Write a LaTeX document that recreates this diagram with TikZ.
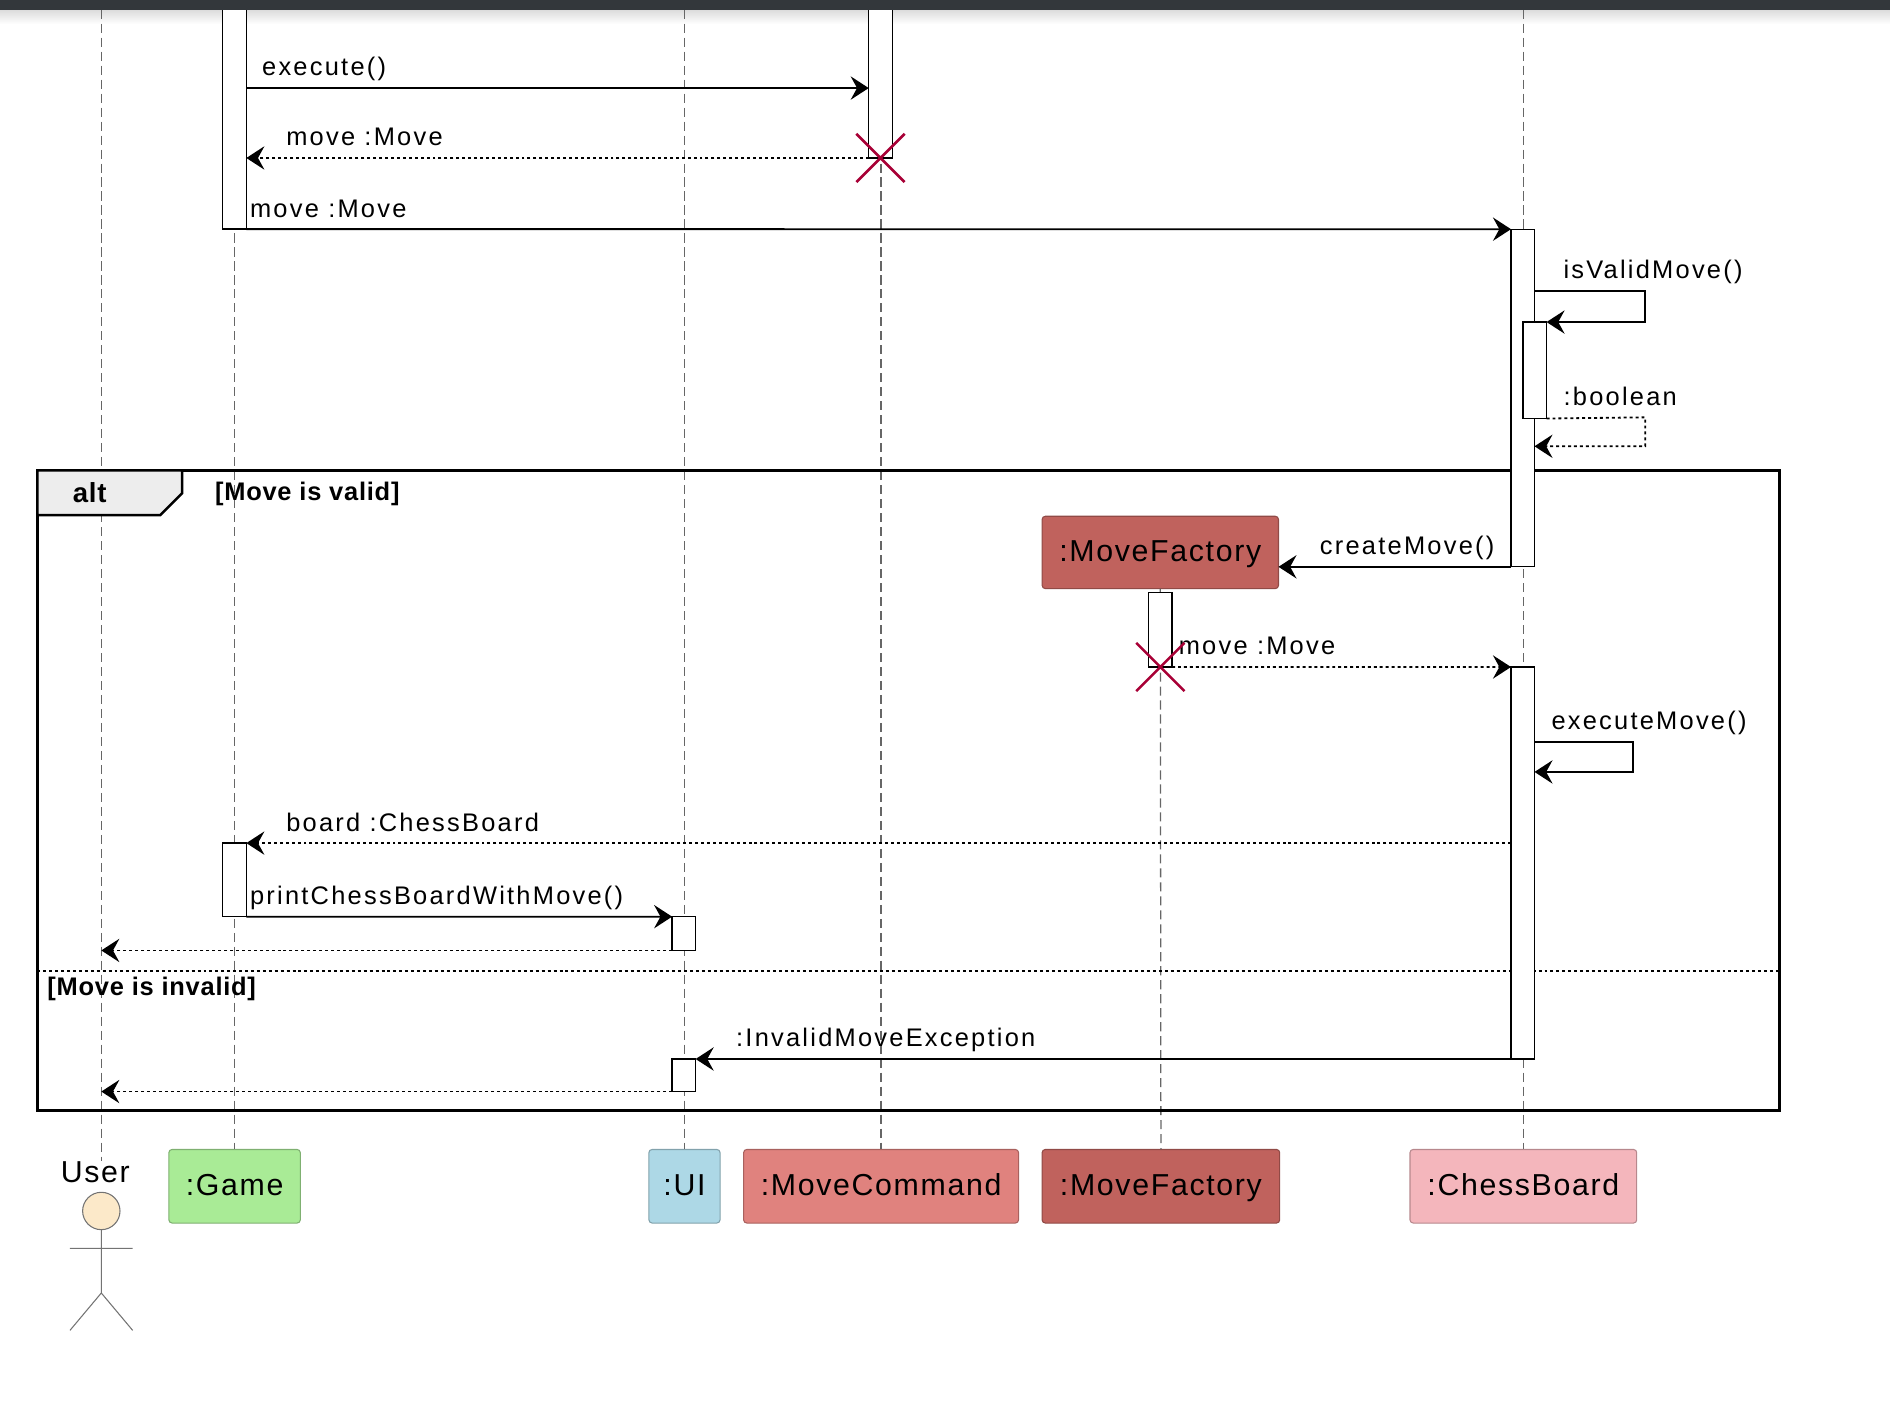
\documentclass[tikz,border=0pt]{standalone}
\usepackage{fontspec}
\setmainfont{Liberation Sans}
\newfontfamily\msgfont[LetterSpace=8.8]{Liberation Sans}
\newfontfamily\headfont[LetterSpace=5.5]{Liberation Sans}
\newfontfamily\framefont[LetterSpace=3]{Liberation Sans}
\usetikzlibrary{arrows.meta}

\definecolor{gamegreen}{HTML}{A9EB96}
\definecolor{uiblue}{HTML}{ADD8E6}
\definecolor{cmdred}{HTML}{E0827E}
\definecolor{factoryred}{HTML}{C0625D}
\definecolor{boardpink}{HTML}{F4B6BC}
\definecolor{killred}{HTML}{A80036}
\definecolor{actorskin}{HTML}{FCE9C9}
\definecolor{topbar}{HTML}{33373B}

\tikzset{
  lifeline/.style={black!60, line width=0.6pt, dash pattern=on 4.3pt off 2.3pt},
  bar/.style={draw, fill=white, line width=0.6pt, minimum width=0.39cm, inner sep=0pt, outer sep=0pt, anchor=north},
  msg/.style={line width=0.85pt, -{Stealth[length=8.5pt, width=11pt, inset=3pt]}},
  ret/.style={msg, dash pattern=on 1.4pt off 1.4pt},
  lbl/.style={font=\msgfont\fontsize{12}{14}\selectfont, anchor=base west, inner sep=0pt},
  head/.style={draw=#1!75!black, fill=#1, line width=0.5pt, rounded corners=1.5pt, minimum height=1.22cm, inner sep=0pt, outer sep=0pt, text height=10.5pt, text depth=2pt, font=\headfont\fontsize{14.3}{16}\selectfont},
  guard/.style={font=\framefont\bfseries\fontsize{12}{14}\selectfont, anchor=base west, inner sep=0pt},
  kill/.style={killred, line width=1.2pt},
}

\begin{document}
\begin{tikzpicture}[x=0.02cm, y=-0.02cm]
  \useasboundingbox (0,0) rectangle (1567,1170.7);
  \shade[top color=black!14, bottom color=white] (0,8) rectangle (1567,20);

  % participants at the bottom
  \node[head=gamegreen, minimum width=2.18cm] (game) at (194.5,983.5) {:Game};
  \node[head=uiblue, minimum width=1.18cm] (ui) at (567.5,983.5) {:UI};
  \node[head=cmdred, minimum width=4.56cm] (cmd) at (730.5,983.5) {:MoveCommand};
  \node[head=factoryred, minimum width=3.94cm] (factory) at (962.5,983.5) {:MoveFactory};
  \node[head=boardpink, minimum width=3.76cm] (board) at (1263,983.5) {:ChessBoard};
  \node[head=factoryred, minimum width=3.92cm, minimum height=1.2cm] (newfactory) at (962,458) {:MoveFactory};

  % actor
  \node[font=\headfont\fontsize{14.3}{16}\selectfont, inner sep=0pt] (user) at (79,972) {User};
  \node[circle, draw=black!55, fill=actorskin, line width=0.5pt, minimum size=0.62cm, inner sep=0pt] (userhead) at (84,1004) {};
  \coordinate (hip) at (84,1072);
  \draw[black!55, line width=0.5pt] (userhead.south) -- (hip) (58,1035) -- (110,1035) (58,1103) -- (hip) -- (110,1103);

  % lifelines
  \draw[lifeline] (userhead |- 0,8) -- (userhead |- user.north);
  \draw[lifeline] (game.north |- 0,8) -- (game.north);
  \draw[lifeline] (ui.north |- 0,8) -- (ui.north);
  \draw[lifeline] (cmd.north |- 0,8) -- (cmd.north);
  \draw[lifeline] (newfactory.south) -- (factory.north);
  \draw[lifeline] (board.north |- 0,8) -- (board.north);

  % alt frame
  \draw[line width=1.4pt] (31,390) rectangle (1475,921);
  \filldraw[fill=black!7, line width=1.2pt] (31,390) -- (151,390) -- (151,409) -- (133,427) -- (31,427) -- cycle;
  \node[guard, font=\framefont\bfseries\fontsize{13}{15}\selectfont] (alt) at (60,417) {alt};
  \node[guard] (valid) at (178,415) {[Move is valid]};
  \draw[line width=0.8pt, dash pattern=on 1.4pt off 1.4pt] (31,805) -- (1475,805);
  \node[guard] (invalid) at (39,825) {[Move is invalid]};

  % activations
  \node[bar, minimum height=3.8cm] (g1) at (194.5,0) {};
  \node[bar, minimum height=2.62cm] (c1) at (730,0) {};
  \node[bar, minimum height=5.6cm] (b1) at (1262.5,190) {};
  \node[bar, minimum height=1.6cm] (b2) at (1272.5,267) {};
  \node[bar, minimum height=1.24cm] (f1) at (962,491) {};
  \node[bar, minimum height=6.5cm] (b3) at (1262.5,553) {};
  \node[bar, minimum height=1.22cm] (g2) at (194.5,699) {};
  \node[bar, minimum height=0.56cm] (u1) at (567,760) {};
  \node[bar, minimum height=0.54cm] (u2) at (567,878) {};

  % messages
  \draw[msg] (g1.east |- 0,73) -- (c1.west |- 0,73);
  \node[lbl] (m1) at (217,63) {execute()};
  \draw[ret] (c1.south) -- (g1.east |- c1.south);
  \node[lbl] (m2) at (237,121) {move :Move};
  \draw[kill] (c1.south) +(-20,-20) -- +(20,20) (c1.south) +(-20,20) -- +(20,-20);

  \draw[msg] (g1.south east) -- (b1.north west);
  \node[lbl] (m3) at (207,180) {move :Move};

  \draw[msg] (b1.east |- 0,241) -- (1364,241) -- (1364,267) -- (b2.north east);
  \node[lbl] (m4) at (1296,231) {isValidMove()};
  \draw[ret] (b2.south east) -- (1364,346) -- (1364,370) -- (b1.east |- 0,370);
  \node[lbl] (m5) at (1296,336) {:boolean};

  \draw[msg] (b1.south west) -- (newfactory.east |- b1.south);
  \node[lbl] (m6) at (1094,460) {createMove()};

  \draw[ret] (f1.south east) -- (b3.north west);
  \node[lbl] (m7) at (977,543) {move :Move};
  \draw[kill] (f1.south) +(-20,-20) -- +(20,20) (f1.south) +(-20,20) -- +(20,-20);

  \draw[msg] (b3.east |- 0,615) -- (1354,615) -- (1354,640) -- (b3.east |- 0,640);
  \node[lbl] (m8) at (1286,605) {executeMove()};

  \draw[ret] (b3.west |- g2.north) -- (g2.north east);
  \node[lbl] (m9) at (237,689) {board :ChessBoard};

  \draw[msg] (g2.south east) -- (u1.north west);
  \node[lbl] (m10) at (207,750) {printChessBoardWithMove()};
  \draw[ret] (u1.south west) -- (userhead |- u1.south west);

  \draw[msg] (b3.south west) -- (u2.north east);
  \node[lbl] (m11) at (610,868) {:InvalidMoveException};
  \draw[ret] (u2.south west) -- (userhead |- u2.south west);

  % window strip on top
  \fill[topbar] (0,0) rectangle (1567,8);
\end{tikzpicture}
\end{document}
